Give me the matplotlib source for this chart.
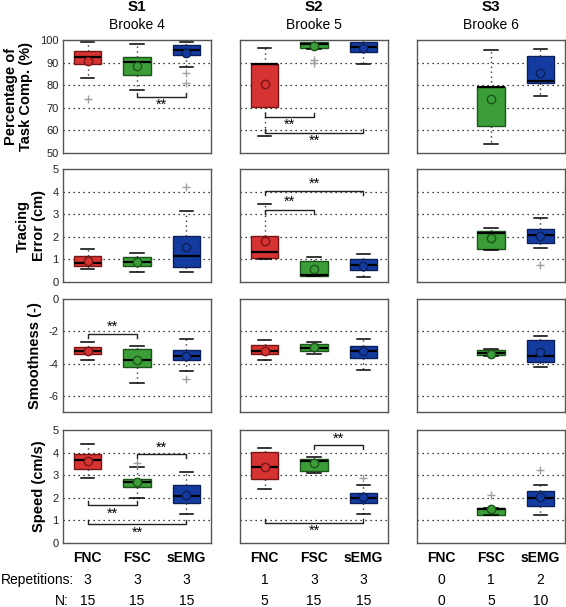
import matplotlib
matplotlib.use("Agg")
import matplotlib.pyplot as plt
import matplotlib.transforms as mtransforms

plt.rcParams['font.family'] = ['Liberation Sans', 'DejaVu Sans']
plt.rcParams['axes.unicode_minus'] = False

subjects = ["S1", "S2", "S3"]
datasets = ["Brooke 4", "Brooke 5", "Brooke 6"]
conditions = ["FNC", "FSC", "sEMG"]
repetitions = [[3, 3, 3], [1, 3, 3], [0, 1, 2]]
n_counts = [[15, 15, 15], [5, 15, 15], [0, 5, 10]]

metric_labels = ["Percentage of\nTask Comp. (%)", "Tracing\nError (cm)", "Smoothness (-)", "Speed (cm/s)"]
metric_ylims = [(50, 100), (0, 5), (-7, 0), (0, 5)]
metric_ticks = [[50, 60, 70, 80, 90, 100], [0, 1, 2, 3, 4, 5], [-6, -4, -2, 0], [0, 1, 2, 3, 4, 5]]

# stats: (whislo, q1, med, q3, whishi, mean, fliers); None = no data
task_comp = [
    [(83.3, 89.4, 92.3, 95.3, 99.0, 90.9, [73.8]),
     (77.9, 84.4, 90.1, 92.5, 98.1, 88.5, []),
     (87.9, 93.2, 95.6, 97.9, 99.3, 94.1, [85.5, 81.1])],
    [(57.5, 70.5, 89.4, 89.6, 96.6, 80.7, []),
     (95.8, 96.3, 98.3, 99.2, 99.8, 97.2, [91.0, 89.8]),
     (89.4, 94.6, 96.9, 98.9, 99.9, 96.6, [])],
    [None,
     (53.8, 62.1, 79.0, 79.2, 95.4, 73.9, []),
     (75.2, 80.8, 82.0, 92.9, 95.9, 85.3, [])],
]
tracing_err = [
    [(0.59, 0.71, 0.85, 1.15, 1.47, 0.91, []),
     (0.44, 0.71, 0.90, 1.10, 1.30, 0.90, []),
     (0.46, 0.66, 1.16, 2.03, 3.15, 1.54, [4.2])],
    [(1.03, 1.07, 1.32, 2.03, 3.47, 1.81, []),
     (0.27, 0.28, 0.33, 0.93, 1.12, 0.59, []),
     (0.22, 0.52, 0.74, 1.03, 1.25, 0.71, [])],
    [None,
     (1.40, 1.47, 2.15, 2.25, 2.37, 1.93, []),
     (1.50, 1.73, 2.07, 2.34, 2.81, 2.05, [0.75])],
]
smoothness = [
    [(-3.80, -3.43, -3.23, -2.96, -2.69, -3.20, []),
     (-5.20, -4.23, -3.80, -3.10, -2.90, -3.80, []),
     (-4.47, -3.78, -3.51, -3.15, -2.45, -3.55, [-4.98])],
    [(-3.80, -3.43, -3.23, -2.84, -2.53, -3.20, []),
     (-3.39, -3.23, -3.02, -2.80, -2.66, -2.98, []),
     (-4.39, -3.67, -3.25, -2.94, -2.49, -3.22, [])],
    [None,
     (-3.55, -3.47, -3.35, -3.19, -3.10, -3.40, []),
     (-4.21, -3.88, -3.53, -2.57, -2.27, -3.29, [])],
]
speed = [
    [(2.87, 3.27, 3.67, 3.95, 4.39, 3.65, []),
     (1.98, 2.50, 2.71, 2.84, 3.37, 2.70, [3.52]),
     (1.29, 1.78, 2.10, 2.55, 3.12, 2.12, [])],
    [(2.38, 2.81, 3.37, 4.03, 4.19, 3.35, []),
     (3.08, 3.20, 3.64, 3.73, 3.82, 3.52, []),
     (1.29, 1.79, 2.00, 2.22, 2.55, 2.04, [2.87])],
    [None,
     (1.26, 1.26, 1.52, 1.57, 1.57, 1.50, [2.12]),
     (1.22, 1.63, 2.01, 2.28, 2.55, 2.04, [3.23])],
]
metrics = [task_comp, tracing_err, smoothness, speed]

# significance brackets: (row, col, x1, x2, y_line, tick_direction, y_text)
brackets = [
    (0, 0, 2, 3, 74.6, +1, 71.2),
    (0, 1, 1, 2, 66.1, +1, 62.7),
    (0, 1, 1, 3, 59.0, +1, 55.4),
    (1, 1, 1, 2, 3.19, -1, 3.55),
    (1, 1, 1, 3, 4.01, -1, 4.33),
    (2, 0, 1, 2, -2.14, -1, -1.71),
    (3, 0, 2, 3, 3.92, -1, 4.23),
    (3, 0, 1, 2, 1.67, +1, 1.30),
    (3, 0, 1, 3, 0.86, +1, 0.46),
    (3, 1, 2, 3, 4.32, -1, 4.62),
    (3, 1, 1, 3, 0.89, +1, 0.53),
]

fill_colors = ['#d63333', '#3c9e38', '#143ca0']
edge_colors = ['#7a1515', '#1d541b', '#0b1f5a']

W, H = 566, 607
fig = plt.figure(figsize=(W / 100, H / 100), dpi=100)

col_left = [63, 240, 417]
col_w = 148
row_top = [40, 169, 299, 430]
row_h = 113

axes = [[None] * 3 for _ in range(4)]
for r in range(4):
    for c in range(3):
        ax = fig.add_axes([col_left[c] / W, 1 - (row_top[r] + row_h) / H, col_w / W, row_h / H])
        axes[r][c] = ax
        ax.set_xlim(0.5, 3.5)
        ax.set_ylim(*metric_ylims[r])
        ax.set_yticks(metric_ticks[r])
        ax.set_xticks([])
        lo, hi = metric_ylims[r]
        for t in metric_ticks[r]:
            if lo < t < hi:
                ax.axhline(t, color='black', lw=0.9, ls=(0, (1, 3)), zorder=0)
        for s in ax.spines.values():
            s.set_color('#555555')
            s.set_linewidth(1.0)
        ax.tick_params(length=0, labelsize=8, pad=3, colors='#222222')
        if c == 0:
            ax.set_ylabel(metric_labels[r], fontsize=10.5, fontweight='bold', labelpad=5, linespacing=1.15)
        else:
            ax.set_yticklabels([])

        for k in range(3):
            st = metrics[r][c][k]
            if st is None:
                continue
            wl, q1, med, q3, wh, mean, fl = st
            stats = [dict(whislo=wl, q1=q1, med=med, q3=q3, whishi=wh, mean=mean, fliers=fl)]
            ax.bxp(stats, positions=[k + 1], widths=0.56, capwidths=0.27,
                   showmeans=True, patch_artist=True, manage_ticks=False,
                   boxprops=dict(facecolor=fill_colors[k], edgecolor=edge_colors[k], lw=1.0),
                   medianprops=dict(color='black', lw=1.6),
                   whiskerprops=dict(color='#333333', lw=1.0, ls=(0, (1, 2.5))),
                   capprops=dict(color='black', lw=1.1),
                   flierprops=dict(marker='+', markeredgecolor='#a0a0a0', markersize=6, mew=1.0),
                   meanprops=dict(marker='o', markerfacecolor=fill_colors[k],
                                  markeredgecolor=edge_colors[k], markersize=6, mew=1.0))

for (r, c, x1, x2, y, d, yt) in brackets:
    ax = axes[r][c]
    lo, hi = metric_ylims[r]
    tick = 0.035 * (hi - lo)
    ax.plot([x1, x1, x2, x2], [y + d * tick, y, y, y + d * tick], color='#222222', lw=1.0, zorder=5)
    ax.text((x1 + x2) / 2, yt, '**', ha='center', va='center', fontsize=10.5, zorder=5)

for c in range(3):
    ax = axes[0][c]
    tr0 = mtransforms.blended_transform_factory(ax.transAxes, fig.transFigure)
    ax.text(0.5, 1 - 7 / H, subjects[c], transform=tr0,
            ha='center', va='center', fontsize=11, fontweight='bold')
    ax.text(0.5, 1 - 25 / H, datasets[c], transform=tr0,
            ha='center', va='center', fontsize=10)
    axb = axes[3][c]
    tr = mtransforms.blended_transform_factory(axb.transData, fig.transFigure)
    for k in range(3):
        axb.text(k + 1, 1 - 558 / H, conditions[k], transform=tr, ha='center', va='center',
                 fontsize=10, fontweight='bold')
        axb.text(k + 1, 1 - 580 / H, str(repetitions[c][k]), transform=tr, ha='center', va='center', fontsize=10)
        axb.text(k + 1, 1 - 601 / H, str(n_counts[c][k]), transform=tr, ha='center', va='center', fontsize=10)

fig.text(1 / W, 1 - 580 / H, "Repetitions:", ha='left', va='center', fontsize=10)
fig.text(69 / W, 1 - 601 / H, "N:", ha='right', va='center', fontsize=10)

fig.savefig("out.png", dpi=100)
